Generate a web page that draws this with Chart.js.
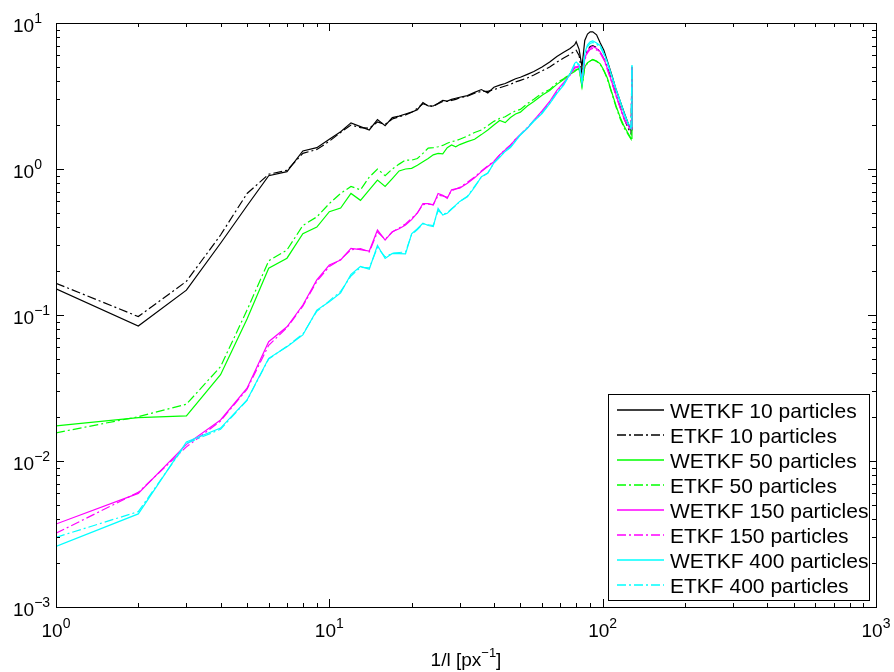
<!DOCTYPE html>
<html>
<head>
<meta charset="utf-8">
<script src="https://cdn.jsdelivr.net/npm/chart.js@4.4.0/dist/chart.umd.min.js"></script>
<style>
  html, body { margin: 0; padding: 0; background: #fff; }
</style>
</head>
<body>
<canvas id="chart" width="894" height="672"></canvas>
<script>
// ======================
// Data
// ======================
const xs = [1, 2, 3, 4, 5, 6, 7, 8, 9, 10, 11, 12, 13, 14, 15, 16, 17, 18, 19, 20,
  21, 22, 23, 24, 25, 26, 27, 28, 29, 30, 32, 34, 36, 38, 40, 42, 44, 46, 48, 50,
  53, 56, 60, 64, 68, 72, 76, 79, 80, 82, 84, 86, 88, 90, 92, 95, 98, 101, 104, 108,
  112, 116, 120, 124, 127, 128];

const wetkf10 = [0.151, 0.084, 0.148, 0.31, 0.56, 0.90, 0.96, 1.33, 1.40, 1.60, 1.80, 2.07, 1.95, 1.85, 2.18, 1.98, 2.25, 2.30, 2.38, 2.45,
  2.55, 2.85, 2.70, 2.70, 2.82, 2.95, 2.92, 3.0, 3.05, 3.1, 3.18, 3.35, 3.5, 3.32, 3.63, 3.75, 3.85, 4.0, 4.15, 4.25,
  4.45, 4.65, 5.0, 5.4, 5.9, 6.3, 6.7, 7.1, 7.45, 6.6, 5.0, 7.6, 8.4, 8.7, 8.7, 8.3, 7.3, 6.5, 5.5, 4.4,
  3.5, 2.9, 2.42, 2.05, 1.85, 5.0];
const etkf10 = [0.165, 0.0975, 0.17, 0.353, 0.68, 0.92, 0.98, 1.28, 1.36, 1.55, 1.78, 2.0, 1.92, 1.90, 2.10, 2.02, 2.2, 2.28, 2.35, 2.45,
  2.6, 2.8, 2.72, 2.68, 2.8, 2.9, 2.9, 2.95, 3.0, 3.08, 3.15, 3.3, 3.4, 3.4, 3.5, 3.6, 3.7, 3.8, 3.95, 4.05,
  4.2, 4.4, 4.7, 5.0, 5.4, 5.75, 6.1, 6.4, 6.5, 6.0, 4.5, 5.8, 6.5, 6.9, 7.0, 6.8, 6.3, 5.7, 5.0, 4.0,
  3.2, 2.65, 2.2, 1.9, 1.75, 5.0];
const wetkf50 = [0.0174, 0.0198, 0.0204, 0.039, 0.094, 0.209, 0.245, 0.36, 0.40, 0.51, 0.54, 0.68, 0.61, 0.72, 0.84, 0.76, 0.86, 0.97, 1.0, 1.01,
  1.06, 1.12, 1.18, 1.25, 1.28, 1.27, 1.4, 1.46, 1.42, 1.47, 1.54, 1.6, 1.72, 1.85, 2.0, 2.15, 2.08, 2.25, 2.38, 2.45,
  2.7, 2.9, 3.2, 3.45, 3.8, 4.1, 4.45, 4.65, 4.75, 4.9, 3.66, 5.0, 5.35, 5.5, 5.63, 5.5, 5.25, 4.75, 4.2, 3.35,
  2.7, 2.25, 1.95, 1.75, 1.62, 5.0];
const etkf50 = [0.0156, 0.0201, 0.0245, 0.0443, 0.108, 0.235, 0.279, 0.41, 0.47, 0.58, 0.68, 0.76, 0.72, 0.88, 1.0, 0.90, 1.0, 1.08, 1.15, 1.15,
  1.18, 1.28, 1.39, 1.4, 1.42, 1.45, 1.5, 1.54, 1.56, 1.6, 1.68, 1.78, 1.85, 1.98, 2.12, 2.22, 2.28, 2.4, 2.5, 2.56,
  2.8, 3.0, 3.3, 3.5, 3.9, 4.15, 4.5, 4.7, 4.8, 4.85, 3.7, 5.0, 5.3, 5.5, 5.6, 5.45, 5.2, 4.7, 4.15, 3.3,
  2.65, 2.2, 1.9, 1.72, 1.6, 5.0];
const wetkf150 = [0.0037, 0.0060, 0.0130, 0.0191, 0.0315, 0.0656, 0.083, 0.117, 0.174, 0.22, 0.238, 0.286, 0.28, 0.274, 0.382, 0.326, 0.372, 0.39, 0.413, 0.45,
  0.5, 0.58, 0.58, 0.567, 0.68, 0.66, 0.63, 0.72, 0.73, 0.74, 0.8, 0.87, 0.96, 1.04, 1.12, 1.25, 1.35, 1.45, 1.6, 1.72,
  1.9, 2.15, 2.5, 2.9, 3.45, 3.9, 4.45, 5.0, 5.0, 5.1, 4.07, 5.7, 6.4, 6.75, 6.9, 6.7, 6.35, 5.7, 4.9, 3.95,
  3.2, 2.62, 2.2, 1.98, 1.88, 5.0];
const etkf150 = [0.0032, 0.0061, 0.0125, 0.0188, 0.031, 0.062, 0.082, 0.115, 0.17, 0.215, 0.24, 0.28, 0.285, 0.27, 0.37, 0.33, 0.37, 0.395, 0.42, 0.46,
  0.5, 0.57, 0.575, 0.57, 0.66, 0.655, 0.64, 0.71, 0.73, 0.75, 0.81, 0.88, 0.97, 1.05, 1.13, 1.25, 1.36, 1.46, 1.6, 1.72,
  1.92, 2.15, 2.45, 2.85, 3.35, 3.85, 4.4, 4.9, 4.95, 5.0, 4.0, 5.6, 6.25, 6.6, 6.7, 6.55, 6.2, 5.6, 4.8, 3.9,
  3.15, 2.6, 2.18, 1.95, 1.85, 5.0];
const wetkf400 = [0.0026, 0.00434, 0.0135, 0.0168, 0.0262, 0.0505, 0.0607, 0.073, 0.108, 0.123, 0.142, 0.19, 0.215, 0.206, 0.30, 0.244, 0.264, 0.263, 0.262, 0.36,
  0.39, 0.425, 0.41, 0.403, 0.538, 0.484, 0.497, 0.53, 0.566, 0.6, 0.645, 0.75, 0.885, 0.933, 1.1, 1.2, 1.32, 1.4, 1.55, 1.71,
  1.9, 2.12, 2.4, 2.8, 3.3, 3.75, 4.5, 5.3, 5.4, 5.2, 3.86, 6.2, 7.1, 7.45, 7.55, 7.3, 7.0, 6.2, 5.4, 4.35,
  3.5, 2.9, 2.4, 2.05, 1.95, 5.15];
const etkf400 = [0.0030, 0.0045, 0.0132, 0.0165, 0.026, 0.05, 0.061, 0.074, 0.106, 0.125, 0.145, 0.185, 0.212, 0.21, 0.29, 0.25, 0.265, 0.268, 0.27, 0.355,
  0.385, 0.42, 0.415, 0.41, 0.52, 0.49, 0.5, 0.535, 0.56, 0.6, 0.65, 0.76, 0.88, 0.94, 1.1, 1.21, 1.33, 1.42, 1.56, 1.72,
  1.92, 2.14, 2.42, 2.82, 3.32, 3.8, 4.5, 5.2, 5.3, 5.15, 3.9, 6.1, 6.9, 7.25, 7.35, 7.15, 6.85, 6.1, 5.3, 4.3,
  3.45, 2.85, 2.35, 2.0, 1.9, 5.1];

const seriesLabels = ["WETKF 10 particles", "ETKF 10 particles", "WETKF 50 particles", "ETKF 50 particles",
  "WETKF 150 particles", "ETKF 150 particles", "WETKF 400 particles", "ETKF 400 particles"];
const seriesValues = [wetkf10, etkf10, wetkf50, etkf50, wetkf150, etkf150, wetkf400, etkf400];
const seriesColors = ["#000000", "#000000", "#00ff00", "#00ff00", "#ff00ff", "#ff00ff", "#00ffff", "#00ffff"];

// tick labels: 10^exp
const xTickExp = [0, 1, 2, 3];
const yTickExp = [-3, -2, -1, 0, 1];
const xTitle = "1/l [px";
const xTitleExp = "\u22121";

// ======================
// Style
// ======================
const FONT = "'Liberation Sans', Arial, Helvetica, sans-serif";
const DASHDOT = [9, 3, 2, 3];

function drawPow(ctx, x, yBase, exp, big, small, align) {
  ctx.font = big + "px " + FONT;
  const wb = ctx.measureText("10").width;
  ctx.font = small + "px " + FONT;
  const es = String(exp).replace("-", "\u2212");
  const we = ctx.measureText(es).width;
  let left = x;
  if (align === "center") left = x - (wb + we) / 2;
  ctx.font = big + "px " + FONT;
  ctx.fillText("10", left, yBase);
  ctx.font = small + "px " + FONT;
  ctx.fillText(es, left + wb, yBase - 9);
}

// axes box, inward ticks, labels and legend in MATLAB style
const matlabAxes = {
  id: "matlabAxes",
  afterDraw(chart) {
    const { ctx, chartArea: a, scales: { x, y } } = chart;
    ctx.save();
    ctx.strokeStyle = "#000";
    ctx.lineWidth = 1;
    ctx.strokeRect(Math.round(a.left) + 0.5, Math.round(a.top) + 0.5, Math.round(a.width), Math.round(a.height));

    ctx.beginPath();
    for (let d = xTickExp[0]; d < xTickExp[xTickExp.length - 1]; d++) {
      for (let k = 1; k <= 9; k++) {
        const px = Math.round(x.getPixelForValue(k * Math.pow(10, d))) + 0.5;
        const len = k === 1 ? 8 : 4;
        ctx.moveTo(px, a.bottom); ctx.lineTo(px, a.bottom - len);
        ctx.moveTo(px, a.top); ctx.lineTo(px, a.top + len);
      }
    }
    for (let d = yTickExp[0]; d < yTickExp[yTickExp.length - 1]; d++) {
      for (let k = 1; k <= 9; k++) {
        const py = Math.round(y.getPixelForValue(k * Math.pow(10, d))) + 0.5;
        const len = k === 1 ? 8 : 4;
        ctx.moveTo(a.left, py); ctx.lineTo(a.left + len, py);
        ctx.moveTo(a.right, py); ctx.lineTo(a.right - len, py);
      }
    }
    ctx.stroke();

    // tick labels
    ctx.fillStyle = "#000";
    ctx.textBaseline = "alphabetic";
    ctx.textAlign = "left";
    yTickExp.forEach(e => {
      const py = y.getPixelForValue(Math.pow(10, e));
      drawPow(ctx, 13, py + 8.5, e, 19, 14, "left");
    });
    xTickExp.forEach(e => {
      const px = x.getPixelForValue(Math.pow(10, e));
      drawPow(ctx, px, 637, e, 19, 14, "center");
    });

    // x title
    ctx.font = "19px " + FONT;
    const wt = ctx.measureText(xTitle).width;
    ctx.font = "13px " + FONT;
    const wx = ctx.measureText(xTitleExp).width;
    ctx.font = "19px " + FONT;
    const wr = ctx.measureText("]").width;
    let tx = (a.left + a.right) / 2 - (wt + wx + wr) / 2;
    ctx.fillText(xTitle, tx, 666);
    ctx.font = "13px " + FONT;
    ctx.fillText(xTitleExp, tx + wt, 657);
    ctx.font = "19px " + FONT;
    ctx.fillText("]", tx + wt + wx, 666);

    // legend
    const lx = 608, ly = 394, lw = 261, lh = 206;
    ctx.fillStyle = "#fff";
    ctx.fillRect(lx, ly, lw, lh);
    ctx.strokeStyle = "#000";
    ctx.lineWidth = 1;
    ctx.strokeRect(lx + 0.5, ly + 0.5, lw, lh);
    seriesLabels.forEach((label, i) => {
      const cy = 410 + i * 25;
      ctx.strokeStyle = seriesColors[i];
      ctx.lineWidth = 1.5;
      ctx.setLineDash(i % 2 === 1 ? DASHDOT : []);
      ctx.beginPath();
      ctx.moveTo(617, cy); ctx.lineTo(664, cy);
      ctx.stroke();
      ctx.setLineDash([]);
      ctx.fillStyle = "#000";
      ctx.font = "21px " + FONT;
      ctx.fillText(label, 670, cy + 7.5);
    });
    ctx.restore();
  }
};

// ======================
// Chart
// ======================
const datasets = seriesValues.map((vals, i) => ({
  label: seriesLabels[i],
  data: xs.map((xv, j) => ({ x: xv, y: vals[j] })),
  borderColor: seriesColors[i],
  borderWidth: 1.2,
  borderDash: i % 2 === 1 ? DASHDOT : [],
  pointRadius: 0,
  tension: 0,
  fill: false,
  order: seriesValues.length - i
}));

new Chart(document.getElementById("chart"), {
  type: "line",
  data: { datasets },
  options: {
    responsive: false,
    animation: false,
    devicePixelRatio: 1,
    layout: { padding: { top: 23, right: 18, left: 0, bottom: 0 } },
    plugins: { legend: { display: false }, tooltip: { enabled: false } },
    scales: {
      x: {
        type: "logarithmic", min: 1, max: 1000,
        ticks: { display: false }, grid: { display: false }, border: { display: false },
        afterFit(s) { s.height = 65; }
      },
      y: {
        type: "logarithmic", min: 0.001, max: 10,
        ticks: { display: false }, grid: { display: false }, border: { display: false },
        afterFit(s) { s.width = 56; }
      }
    }
  },
  plugins: [matlabAxes]
});
</script>
</body>
</html>
